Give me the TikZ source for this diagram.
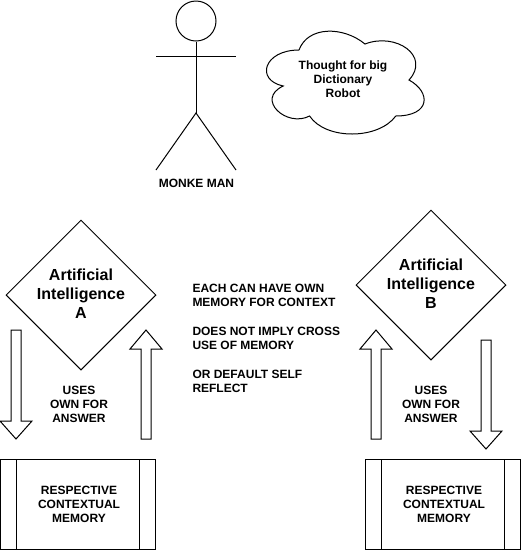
\documentclass[tikz,border=0pt]{standalone}
\usepackage{fontspec}
\setmainfont{Liberation Sans}
\usetikzlibrary{positioning}
\usetikzlibrary{shapes.geometric}

\tikzset{
  lbl/.style={font=\bfseries\fontsize{9}{10.5}\selectfont, align=center, inner sep=0pt},
  biglbl/.style={font=\bfseries\fontsize{12}{14.25}\selectfont, align=center, inner sep=0pt},
  aidiamond/.style={diamond, draw, aspect=1, minimum size=112.5pt, inner sep=0pt},
  membox/.style={draw, outer sep=0pt, minimum width=116.25pt, minimum height=67.5pt, inner sep=0pt},
  blockarrow/.style={draw, line join=miter},
}

\begin{document}
\begin{tikzpicture}
[x=0.75pt, y=-0.75pt, line width=0.75pt]
\useasboundingbox (0,0) rectangle (522,551);

% Stick man:
\node[circle, draw, minimum size=30pt, inner sep=0pt] (head) at (196,21) {};
\coordinate (hip) at (196,113);
\coordinate (armL) at (156,56.5);
\coordinate (armR) at (236,56.5);
\coordinate (legL) at (156,170);
\coordinate (legR) at (236,170);
\draw (head) -- (hip);
\draw (armL) -- (armR);
\draw (legL) -- (hip) -- (legR);
\node[lbl] (man) at (196.5,183) {MONKE MAN};

% Thought cloud:
\draw (299,50) .. controls (263.8,50) and (255,80) .. (283.2,86)
  .. controls (255,99.2) and (286.7,128) .. (309.6,116)
  .. controls (325.4,140) and (378.2,140) .. (395.8,116)
  .. controls (431,116) and (431,92) .. (409,80)
  .. controls (431,56) and (395.8,32) .. (365,44)
  .. controls (343,26) and (307.8,26) .. (299,50);
\node[lbl] (thought) at (343,79.5) {Thought for big\\Dictionary\\Robot};

% Diamonds:
\node[aidiamond] (aiA) at (81,295) {};
\node[biglbl] (aiAtxt) at (81,294) {Artificial\\Intelligence\\A};
\node[aidiamond] (aiB) at (431,285) {};
\node[biglbl] (aiBtxt) at (431,284) {Artificial\\Intelligence\\B};

% Middle text:
\node[lbl, align=left, anchor=north west] (note) at (192,284)
  {EACH CAN HAVE OWN\\MEMORY FOR CONTEXT\\[11.25pt]DOES NOT IMPLY CROSS\\USE OF MEMORY\\[11.25pt]OR DEFAULT SELF\\REFLECT};
\node[lbl] (usesA) at (79,404) {USES\\OWN FOR\\ANSWER};
\node[lbl] (usesB) at (431,404) {USES\\OWN FOR\\ANSWER};

% Memory boxes:
\node[membox] (memA) at (78,504.5) {};
\draw ([xshift=12pt]memA.north west) -- ([xshift=12pt]memA.south west);
\draw ([xshift=-12pt]memA.north east) -- ([xshift=-12pt]memA.south east);
\node[lbl] (memAtxt) at (79,504) {RESPECTIVE\\CONTEXTUAL\\MEMORY};
\node[membox] (memB) at (443,504.5) {};
\draw ([xshift=12pt]memB.north west) -- ([xshift=12pt]memB.south west);
\draw ([xshift=-12pt]memB.north east) -- ([xshift=-12pt]memB.south east);
\node[lbl] (memBtxt) at (444,504) {RESPECTIVE\\CONTEXTUAL\\MEMORY};

% Block arrows:
\draw[blockarrow] (11,330) -- (21,330) -- (21,421) -- (32,421) -- (16,439) -- (0,421) -- (11,421) -- cycle;
\draw[blockarrow] (141,439) -- (151,439) -- (151,349) -- (162,349) -- (146,330) -- (130,349) -- (141,349) -- cycle;
\draw[blockarrow] (371,439) -- (381,439) -- (381,349) -- (392,349) -- (376,330) -- (360,349) -- (371,349) -- cycle;
\draw[blockarrow] (481,340) -- (491,340) -- (491,431) -- (502,431) -- (486,449) -- (470,431) -- (481,431) -- cycle;

\end{tikzpicture}
\end{document}
